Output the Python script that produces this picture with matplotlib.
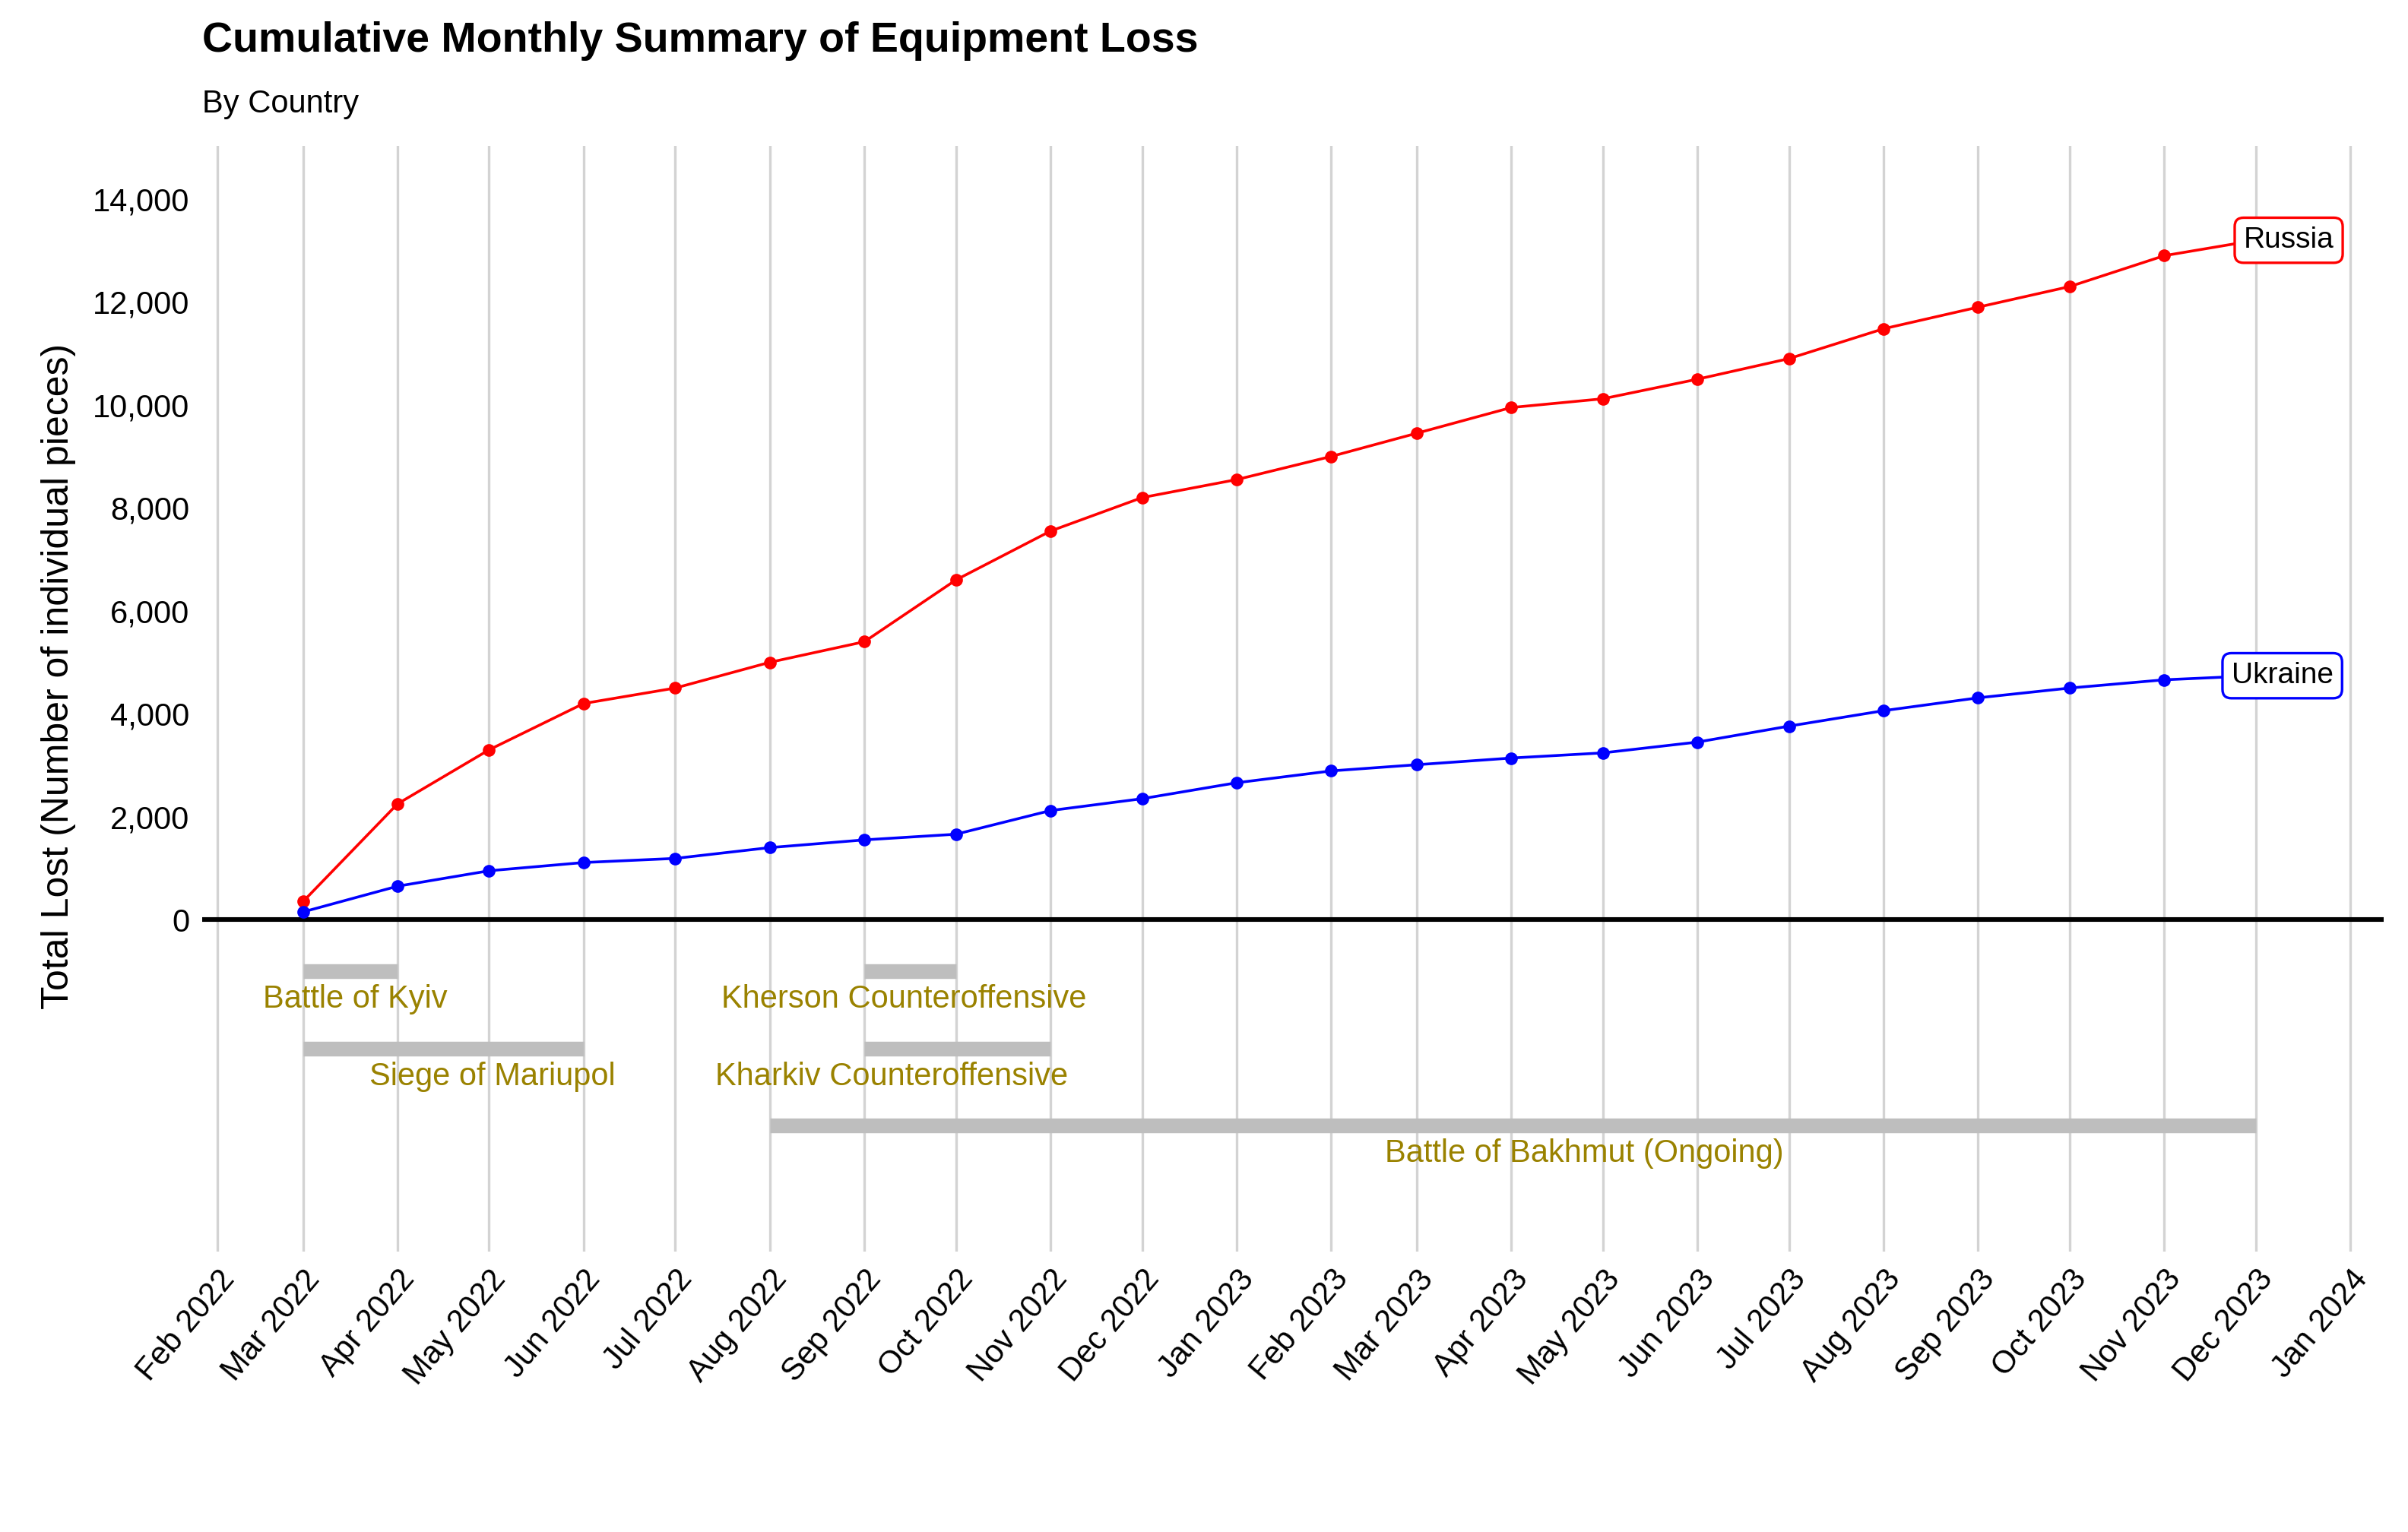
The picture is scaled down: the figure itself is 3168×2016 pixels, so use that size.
import matplotlib
matplotlib.use("Agg")
import matplotlib.pyplot as plt
import matplotlib.dates as mdates
import pandas as pd
from matplotlib.ticker import FuncFormatter

dates = pd.date_range("2022-03-01", "2023-12-01", freq="MS")
russia = [350, 2250, 3300, 4200, 4500, 5000, 5400, 6600, 7550, 8200, 8550, 9000,
          9450, 9950, 10120, 10500, 10900, 11480, 11900, 12300, 12900, 13200]
ukraine = [150, 650, 950, 1110, 1190, 1400, 1550, 1660, 2120, 2350, 2660, 2890,
           3010, 3140, 3240, 3450, 3760, 4060, 4310, 4500, 4660, 4740]

events = ["Battle of Kyiv", "Siege of Mariupol", "Kherson Counteroffensive",
          "Kharkiv Counteroffensive", "Battle of Bakhmut (Ongoing)"]
ev_start = ["2022-03-01", "2022-03-01", "2022-09-01", "2022-09-01", "2022-08-01"]
ev_end = ["2022-04-01", "2022-06-01", "2022-10-01", "2022-11-01", "2023-12-01"]
ev_y = [-1000, -2500, -1000, -2500, -4000]
ev_label_x = ["2022-03-18", "2022-05-02", "2022-09-14", "2022-09-10", "2023-04-25"]

gold = "#9A8200"
fig = plt.figure(figsize=(15.84, 10.08), dpi=200)
ax = fig.add_axes([0.084, 0.183, 0.906, 0.722])

ticks = pd.date_range("2022-02-01", "2024-01-01", freq="MS")
for t in ticks:
    ax.axvline(t, color="#d3d3d3", lw=1.2, zorder=0)
ax.axhline(0, color="black", lw=2.2, zorder=1)

for s, e, y in zip(ev_start, ev_end, ev_y):
    ax.plot([pd.Timestamp(s), pd.Timestamp(e)], [y, y], color="#bebebe", lw=7,
            solid_capstyle="butt", zorder=2)
for name, lx, y in zip(events, ev_label_x, ev_y):
    ax.text(pd.Timestamp(lx), y - 550, name, color=gold, fontsize=15,
            ha="center", va="center", family="Liberation Sans")

ax.plot(dates, russia, color="red", marker="o", ms=5, lw=1.3, zorder=3)
ax.plot(dates, ukraine, color="blue", marker="o", ms=5, lw=1.3, zorder=3)

ax.text(dates[-1] - pd.Timedelta(days=4), russia[-1], "Russia", fontsize=14,
        family="Liberation Sans", ha="left", va="center",
        bbox=dict(boxstyle="round,pad=0.3", fc="white", ec="red", lw=1.2))
ax.text(dates[-1] - pd.Timedelta(days=8), ukraine[-1], "Ukraine", fontsize=14,
        family="Liberation Sans", ha="left", va="center",
        bbox=dict(boxstyle="round,pad=0.3", fc="white", ec="blue", lw=1.2))

ax.set_xlim(pd.Timestamp("2022-01-27"), pd.Timestamp("2024-01-12"))
ax.set_ylim(-6450, 15040)
ax.set_xticks(ticks)
ax.xaxis.set_major_formatter(mdates.DateFormatter("%b %Y"))
ax.set_yticks(range(0, 14001, 2000))
ax.yaxis.set_major_formatter(FuncFormatter(lambda v, p: f"{int(v):,}"))
for lab in ax.get_xticklabels():
    lab.set_rotation(50); lab.set_ha("right"); lab.set_rotation_mode("anchor")
ax.tick_params(labelsize=15, length=0, pad=6)
for lab in ax.get_xticklabels() + ax.get_yticklabels():
    lab.set_family("Liberation Sans")
for sp in ax.spines.values():
    sp.set_visible(False)
ax.set_ylabel("Total Lost (Number of individual pieces)", fontsize=18,
              family="Liberation Sans", y=0.52, labelpad=8)

fig.text(0.084, 0.973, "Cumulative Monthly Summary of Equipment Loss", fontsize=20,
         weight="bold", family="Liberation Sans", va="center")
fig.text(0.084, 0.932, "By Country", fontsize=15, family="Liberation Sans", va="center")

fig.savefig("out.png", dpi=200)
